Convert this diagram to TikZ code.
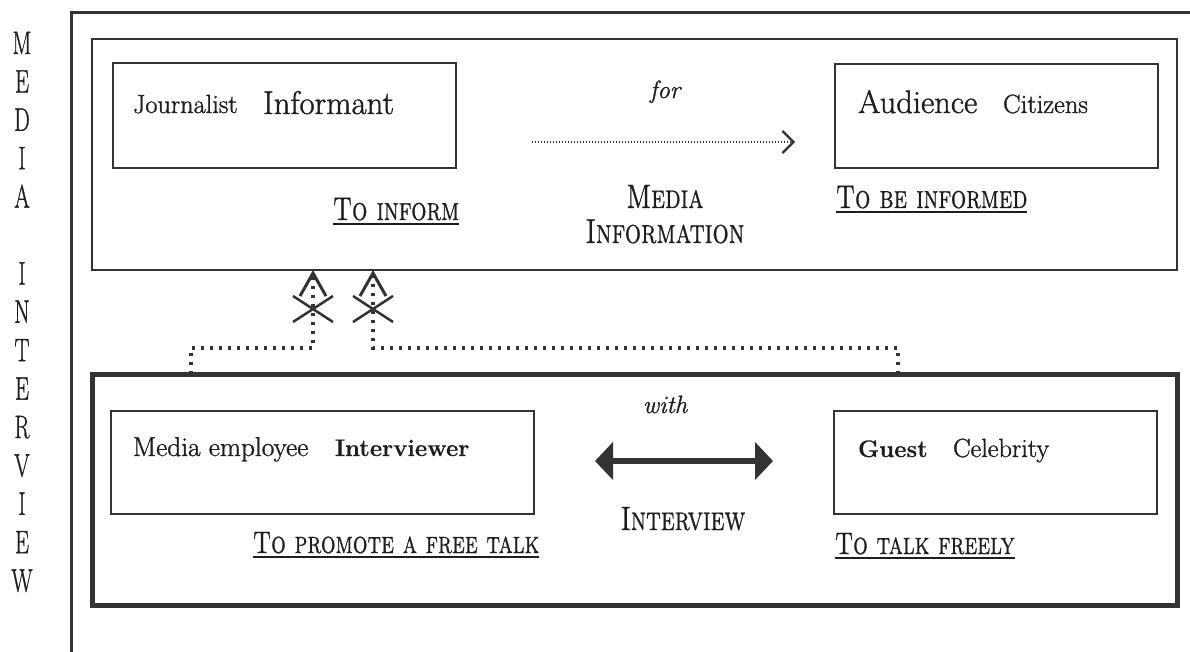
\documentclass[tikz,border=0pt]{standalone}
\usepackage{fontspec}
\usetikzlibrary{arrows.meta,calc}
\newfontfamily\rmA{lmroman17-regular.otf}[FakeBold=1.2]
\newfontfamily\itA{lmroman12-italic.otf}[FakeBold=1.0]
\newfontfamily\bfA{lmroman12-bold.otf}[FakeBold=0.4]
\newfontfamily\scA{lmromancaps10-regular.otf}[FakeBold=0.8]
\definecolor{ink}{HTML}{1E1E1E}
\definecolor{linec}{HTML}{333333}
\newcommand\setfs[1]{\fontsize{#1}{#1}\selectfont}
\newcommand\tallsc[1]{\scalebox{1}[1.35]{#1}}
\begin{document}
\begin{tikzpicture}[x=1pt,y=-1pt,
  txt/.style={inner sep=0pt, outer sep=0pt, text=ink, anchor=base west},
  boxthin/.style={draw=linec, line width=2pt, inner sep=0pt, outer sep=0pt, anchor=north west},
  boxthick/.style={draw=linec, line width=5pt, inner sep=0pt, outer sep=0pt, anchor=north west},
  uline/.style={draw=ink, line width=1.4pt},
  finedot/.style={draw=linec, line width=1.8pt, dash pattern=on 1.4pt off 1.6pt},
  thickdot/.style={draw=linec, line width=3.2pt, dash pattern=on 3.2pt off 5.8pt},
  xmark/.style={draw=linec, line width=2.5pt},
  vlet/.style={inner sep=0pt, text=ink, anchor=base, font=\rmA\setfs{26}}]
\useasboundingbox (0,0) rectangle (1190,652);
\fill[white] (0,0) rectangle (1190,652);

% outer frame
\draw[linec, line width=3pt] (71,652) -- (71,13) -- (1190,13);

% vertical title
\foreach \l [count=\i from 0] in {M,E,D,I,A,{},I,N,T,E,R,V,I,E,W}
  \node[vlet] (v\i) at (22,{54+38.4*\i}) {\scalebox{0.85}[1.25]{\l}};

% upper part
\node[boxthin, minimum width=1085pt, minimum height=231pt] (upbox) at (92,39) {};
\node[boxthin, minimum width=343pt, minimum height=105pt] (jbox) at (113,63) {};
\node[boxthin, minimum width=323pt, minimum height=104pt] (abox) at (835,64) {};
\node[txt, font=\rmA\setfs{26.3}] (jour) at (133,113) {Journalist};
\node[txt, font=\rmA\setfs{32.8}] (inf) at (263,114) {Informant};
\node[txt, font=\rmA\setfs{32.5}] (aud) at (858,113) {Audience};
\node[txt, font=\rmA\setfs{26.5}] (cit) at (1003,113) {Citizens};
\node[txt, anchor=base, font=\itA\setfs{25}] (for) at (665,98) {for};
\node[txt, font=\scA\setfs{24.2}] (toinf) at (333,220) {\tallsc{To inform}};
\node[txt, font=\scA\setfs{24.2}] (tobe) at (836,208) {\tallsc{To be informed}};
\node[txt, anchor=base, font=\scA\setfs{25}] (media) at (665,208) {\tallsc{Media}};
\node[txt, anchor=base, font=\scA\setfs{25.6}] (minfo) at (665,243) {\tallsc{Information}};
\coordinate (fs) at (532,142);
\coordinate (fe) at (795,142);
\draw[finedot, -{Straight Barb[length=11pt,width=22pt,line width=2.2pt]}] (fs) -- (fe);

% lower part
\node[boxthick, minimum width=1085pt, minimum height=231pt] (lowbox) at (92,374) {};
\node[boxthin, minimum width=423pt, minimum height=103pt] (ibox) at (111,411) {};
\node[boxthin, minimum width=323pt, minimum height=103pt] (gbox) at (834,411) {};
\node[txt, font=\rmA\setfs{27.3}] (memp) at (133,456) {Media employee};
\node[txt, font=\bfA\setfs{24}] (intv) at (335,456) {Interviewer};
\node[txt, font=\bfA\setfs{24}] (guest) at (858,457) {Guest};
\node[txt, font=\rmA\setfs{26.3}] (celeb) at (953,457) {Celebrity};
\node[txt, anchor=base, font=\itA\setfs{25}] (with) at (665,413) {with};
\node[txt, anchor=base, font=\scA\setfs{25}] (intw) at (683,530) {\tallsc{Interview}};
\node[txt, font=\scA\setfs{23.1}] (promo) at (253,553) {\tallsc{To promote a free talk}};
\node[txt, font=\scA\setfs{23.1}] (talk) at (835,554) {\tallsc{To talk freely}};
\coordinate (da1) at (595,461);
\coordinate (da2) at (773,461);
\draw[draw=linec, line width=6pt, {Triangle[length=18pt,width=37pt]}-{Triangle[length=18pt,width=37pt]}] (da1) -- (da2);

% underlines
\foreach \n in {toinf,tobe,promo,talk}
  \draw[uline] ([yshift=-4pt]\n.base west) -- ([yshift=-4pt]\n.base east);

% dotted connectors from lower box to upper box
\coordinate (p1) at (191,348);
\coordinate (q1) at (313,348);
\coordinate (p2) at (898,348);
\coordinate (q2) at (373,348);
\draw[thickdot, -{Straight Barb[length=23pt,width=26pt,line width=3pt]}]
  (p1 |- lowbox.north) -- (p1) -- (q1) -- (q1 |- upbox.south);
\draw[thickdot, -{Straight Barb[length=23pt,width=26pt,line width=3pt]}]
  (p2 |- lowbox.north) -- (p2) -- (q2) -- (q2 |- upbox.south);
\coordinate (x1) at (313,309);
\coordinate (x2) at (373,309);
\foreach \c in {x1,x2}{
  \draw[xmark] ($(\c)+(-20,-13)$) -- ($(\c)+(20,13)$);
  \draw[xmark] ($(\c)+(-20,13)$) -- ($(\c)+(20,-13)$);
}
\end{tikzpicture}
\end{document}
